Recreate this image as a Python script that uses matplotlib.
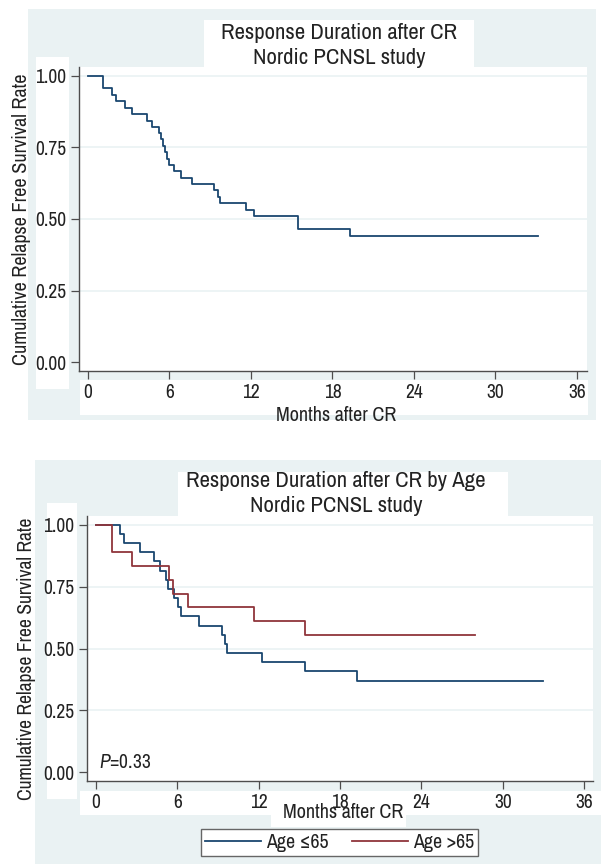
import matplotlib
matplotlib.use('Agg')
import matplotlib.pyplot as plt
from matplotlib import font_manager as fm
from matplotlib.patches import Rectangle

# pick a condensed family if one is installed, else Liberation Sans
names = sorted({f.name for f in fm.fontManager.ttflist})
narrow = [n for n in names if 'Narrow' in n or 'Condensed' in n]
FONT = narrow[0] if narrow else 'Liberation Sans'
plt.rcParams['font.family'] = [FONT, 'DejaVu Sans']
plt.rcParams['mathtext.fontset'] = 'custom'
plt.rcParams['mathtext.rm'] = FONT
plt.rcParams['mathtext.it'] = FONT + ':italic'

# overall curve (months, survival)
all_t = [0, 1.13, 1.78, 2.06, 2.74, 3.25, 4.32, 4.75, 5.23, 5.37, 5.5, 5.68, 5.82, 6.0,
         6.3, 6.86, 7.66, 9.27, 9.55, 9.7, 11.64, 12.26, 15.48, 19.27, 33.1]
all_s = [1.0, 0.956, 0.933, 0.911, 0.889, 0.867, 0.844, 0.822, 0.800, 0.778, 0.756, 0.733,
         0.711, 0.689, 0.667, 0.644, 0.622, 0.600, 0.578, 0.556, 0.533, 0.511, 0.466, 0.441, 0.441]

# age <= 65
young_t = [0, 1.78, 2.06, 3.22, 4.29, 4.69, 5.17, 5.31, 5.79, 6.04, 6.27, 7.62, 9.26,
           9.51, 9.66, 12.28, 15.44, 19.23, 32.95]
young_s = [1.0, 0.963, 0.926, 0.889, 0.852, 0.815, 0.778, 0.741, 0.704, 0.667, 0.630,
           0.593, 0.556, 0.519, 0.481, 0.444, 0.407, 0.370, 0.370]

# age > 65
old_t = [0, 1.16, 1.21, 2.68, 5.42, 5.65, 6.78, 11.63, 15.44, 27.95]
old_s = [1.0, 0.944, 0.889, 0.833, 0.778, 0.722, 0.667, 0.611, 0.556, 0.556]

xticks = [0, 6, 12, 18, 24, 30, 36]
yticks = [0.0, 0.25, 0.5, 0.75, 1.0]
ylabels = ['0.00', '0.25', '0.50', '0.75', '1.00']

BG = '#eaf2f3'
BLUE = '#1a476f'
RED = '#90353b'
AXC = '#4d4d4d'
TXT = '#222222'
W, H = 601, 864
SC = 1.0 if narrow else 0.85   # shrink text a bit when no narrow face

fig = plt.figure(figsize=(W / 100, H / 100), dpi=100)


def box(x0, y0, x1, y1, color):
    fig.patches.append(Rectangle((x0 / W, 1 - y1 / H), (x1 - x0) / W, (y1 - y0) / H,
                                 transform=fig.transFigure, facecolor=color,
                                 edgecolor='none', zorder=-5))


def ftext(x, y, s, size, **kw):
    fig.text(x / W, 1 - y / H, s, ha='center', va='center', fontsize=size * SC,
             color=TXT, **kw)


def make_axes(x0, y0, x1, y1):
    ax = fig.add_axes([x0 / W, 1 - y1 / H, (x1 - x0) / W, (y1 - y0) / H])
    ax.set_zorder(2)
    ax.set_facecolor('white')
    for s in ['top', 'right']:
        ax.spines[s].set_visible(False)
    for s in ['left', 'bottom']:
        ax.spines[s].set_color(AXC)
        ax.spines[s].set_linewidth(1.0)
    ax.set_xticks(xticks)
    ax.set_yticks(yticks)
    ax.set_yticklabels(ylabels)
    ax.tick_params(colors=AXC, length=6, width=0.9, labelcolor=TXT,
                   labelsize=14 * SC, pad=3)
    for y in yticks[1:]:
        ax.axhline(y, color=BG, lw=1.2, zorder=0)
    return ax


# ---------- top panel ----------
box(28, 9, 596, 420, BG)
box(204, 20, 474, 67, 'white')
box(36, 57, 69, 389, 'white')
box(80, 380, 588, 415, 'white')

ax1 = make_axes(79, 67, 587, 371)
ax1.step(all_t, all_s, where='post', color=BLUE, lw=1.3)
ax1.set_xlim(-0.66, 36.74)
ax1.set_ylim(-0.031, 1.031)

ftext(339, 33, 'Response Duration after CR', 16.4)
ftext(339, 58, 'Nordic PCNSL study', 16.4)
ftext(22, 219, 'Cumulative Relapse Free Survival Rate', 14.5, rotation=90)
ftext(336, 416, 'Months after CR', 14.5)

# ---------- bottom panel ----------
box(35, 460, 601, 864, BG)
box(178, 472, 508, 516, 'white')
box(47, 503, 77, 799, 'white')
box(80, 791, 601, 815, 'white')
box(271, 812, 406, 827, 'white')

ax2 = make_axes(87, 516, 593, 781)
l1, = ax2.step(young_t, young_s, where='post', color=BLUE, lw=1.3)
l2, = ax2.step(old_t, old_s, where='post', color=RED, lw=1.3)
ax2.set_xlim(-0.66, 36.65)
ax2.set_ylim(-0.036, 1.036)
ax2.text(0.22, 0.037, r'$\it{P}$=0.33', fontsize=14 * SC, color=TXT, va='center', ha='left')

ftext(336, 481, 'Response Duration after CR by Age', 16.4)
ftext(336, 506, 'Nordic PCNSL study', 16.4)
ftext(27, 659, 'Cumulative Relapse Free Survival Rate', 14.1, rotation=90)
ftext(343, 813, 'Months after CR', 14.5)

leg = fig.legend([l1, l2], ['Age \u226465', 'Age >65'], loc='center',
                 bbox_to_anchor=(339.5 / W, 1 - 842.5 / H), ncol=2, fontsize=14.3 * SC,
                 frameon=True, fancybox=False, edgecolor='#666666', framealpha=1,
                 handlelength=2.8, handletextpad=0.25, columnspacing=1.2,
                 borderpad=0.2, borderaxespad=0)
leg.get_frame().set_linewidth(1.0)
for t in leg.get_texts():
    t.set_color(TXT)

fig.savefig('out.png', dpi=100)
